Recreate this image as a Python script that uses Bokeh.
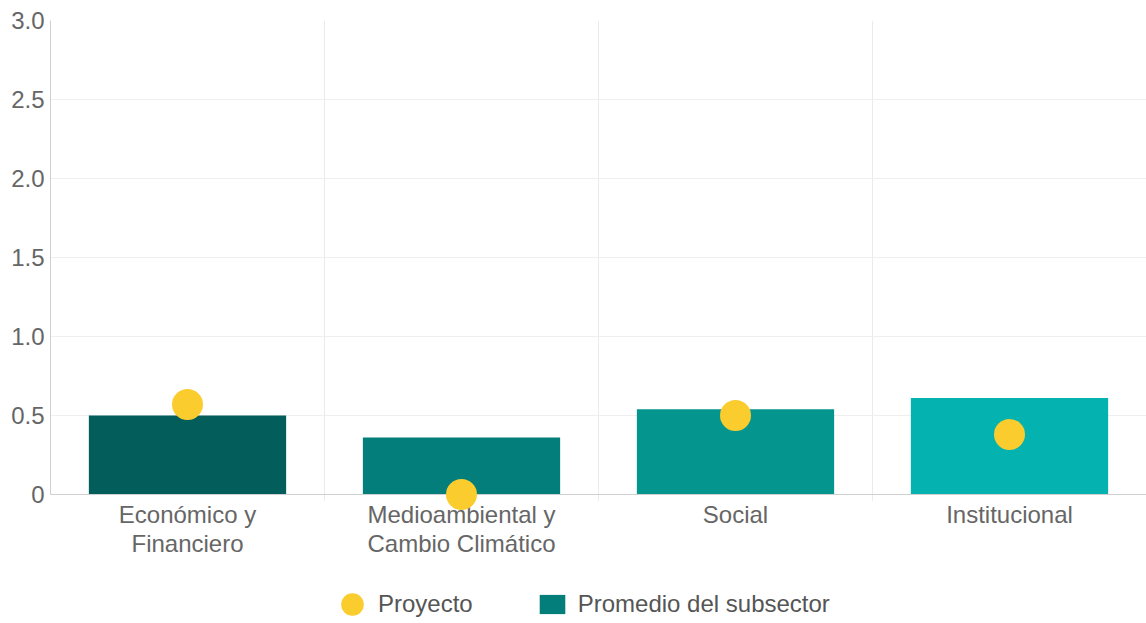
from bokeh.plotting import figure
from bokeh.models import (ColumnDataSource, FactorRange, Range1d, FixedTicker,
                          Legend, LegendItem)
from bokeh.embed import file_html
from bokeh.resources import INLINE

categories = ["Económico y\nFinanciero", "Medioambiental y\nCambio Climático", "Social", "Institucional"]
promedio = [0.50, 0.36, 0.54, 0.61]
proyecto = [0.57, 0.00, 0.50, 0.38]
bar_colors = ["#035E5B", "#047E7A", "#05958F", "#04B2B0"]
y_ticks = [0, 0.5, 1.0, 1.5, 2.0, 2.5, 3.0]
y_tick_labels = ["0", "0.5", "1.0", "1.5", "2.0", "2.5", "3.0"]

FONT = "Liberation Sans"
DOT = "#FACC2E"

# layout: value axis 0..3 occupies 474px; frame extends 128px further down to host labels + legend
PLOT_PX = 474
EXTRA_PX = 128
y_start = -3.0 * EXTRA_PX / PLOT_PX

src = ColumnDataSource(dict(cat=categories, prom=promedio, proy=proyecto, color=bar_colors))

p = figure(x_range=FactorRange(*categories), y_range=Range1d(y_start, 3.0),
           frame_width=1096, frame_height=PLOT_PX + EXTRA_PX, output_backend="svg", toolbar_location=None,
           min_border_left=50, min_border_right=0, min_border_top=20, min_border_bottom=0)
p.outline_line_color = None

# category separators (between categories), limited to the value area
sep_x = list(range(1, len(categories)))
p.segment(x0=sep_x, y0=[-0.04] * len(sep_x), x1=sep_x, y1=[3.0] * len(sep_x),
          line_color="#EBEBEB", line_width=1, level="underlay")

bars = p.vbar(x="cat", top="prom", width=0.72, fill_color="color", line_color=None, source=src)
dots = p.scatter(x="cat", y="proy", size=18, line_width=13, fill_color=DOT, line_color=DOT,
                 source=src, level="overlay")

# grids
p.xgrid.grid_line_color = None
p.ygrid.grid_line_color = "#EFEFEF"
p.ygrid.ticker = FixedTicker(ticks=y_ticks)

# y axis
p.yaxis.ticker = FixedTicker(ticks=y_ticks)
p.yaxis.bounds = (0, 3.0)
p.yaxis.major_label_overrides = {t: l for t, l in zip(y_ticks, y_tick_labels)}
p.yaxis.axis_line_color = "#D0D0D0"
p.yaxis.major_tick_line_color = None
p.yaxis.minor_tick_line_color = None
p.yaxis.major_tick_out = 0
p.yaxis.major_tick_in = 0
p.yaxis.major_label_standoff = 6
p.yaxis.major_label_text_font = FONT
p.yaxis.major_label_text_font_size = "24px"
p.yaxis.major_label_text_color = "#666666"

# x axis, fixed at value 0
p.xaxis.fixed_location = 0
p.xaxis.axis_line_color = "#D0D0D0"
p.xaxis.major_tick_line_color = None
p.xaxis.major_tick_out = 0
p.xaxis.major_tick_in = 0
p.xaxis.major_label_standoff = 6
p.xaxis.major_label_text_font = FONT
p.xaxis.major_label_text_font_size = "24px"
p.xaxis.major_label_text_color = "#666666"
p.xaxis.major_label_text_line_height = 1.1

# legend at the bottom of the frame
legend = Legend(items=[LegendItem(label="Proyecto", renderers=[dots], index=0),
                       LegendItem(label="Promedio del subsector", renderers=[bars], index=1)],
                location=(286, 4), orientation="horizontal",
                glyph_width=32, glyph_height=24, label_standoff=10, spacing=63,
                border_line_color=None, background_fill_alpha=0, padding=0, margin=0,
                label_text_font=FONT, label_text_font_size="24px", label_text_color="#555555",
                label_height=24)
p.add_layout(legend, "center")

open("out.html", "w").write(file_html(p, INLINE))
